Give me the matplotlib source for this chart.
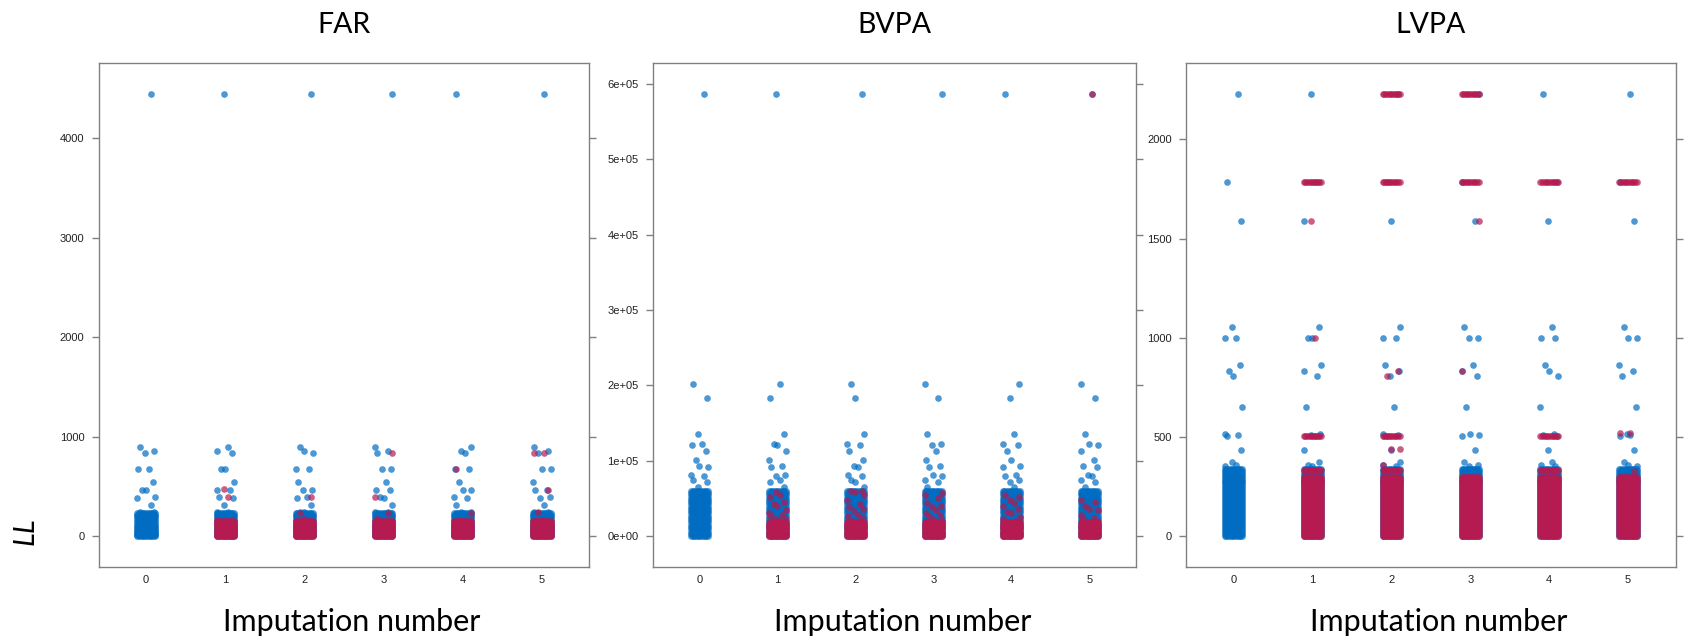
import numpy as np
import matplotlib
matplotlib.use("Agg")
import matplotlib.pyplot as plt

# Daten
imputations = [0, 1, 2, 3, 4, 5]
titles = ["FAR", "BVPA", "LVPA"]

# FAR
far_obs_dense = [0, 10, 20, 30, 45, 60, 75, 90, 105, 120, 140, 160, 180, 200, 215, 228]
far_obs_single = [4450, 895, 860, 835, 675, 670, 540, 465, 460, 390, 380, 310, 245, 240]
far_imp_dense = [0, 10, 20, 35, 50, 65, 80, 95, 110, 125, 140, 150]
far_imp_bars = [[], [], [], [], []]
far_imp_single = [[470, 390, 160, 150],
                  [390, 230, 170],
                  [835, 390, 230, 170],
                  [675, 230, 160],
                  [835, 835, 465, 240, 160]]
far_ticks = [0, 1000, 2000, 3000, 4000]

# BVPA
bvpa_obs_dense = [0, 3000, 6000, 9000, 12000, 15000, 18000, 21000, 24000, 27000, 30000,
                  33000, 36000, 39000, 42000, 45000, 48000, 51000, 54000, 57000, 60000]
bvpa_obs_single = [587000, 202000, 183000, 136000, 122000, 121000, 113000, 101000,
                   93000, 91000, 81000, 79000, 75000, 72000, 65000]
bvpa_imp_dense = [0, 2000, 4000, 6000, 8000, 10000, 12000, 14000, 16000, 18000]
bvpa_imp_bars = [[], [], [], [], []]
bvpa_imp_single = [[58000, 55000, 52000, 45000, 42000, 40000, 35000, 30000, 28000, 27000, 24000, 22000, 20000],
                   [60000, 60000, 58000, 55000, 48000, 42000, 38000, 36000, 33000, 28000, 26000, 24000, 20000],
                   [57000, 55000, 50000, 44000, 40000, 38000, 34000, 30000, 28000, 26000, 22000, 20000],
                   [55000, 52000, 48000, 44000, 40000, 36000, 32000, 30000, 25000, 22000, 20000],
                   [587000, 48000, 45000, 40000, 36000, 34000, 28000, 24000, 22000, 20000]]
bvpa_ticks = [0, 100000, 200000, 300000, 400000, 500000, 600000]

# LVPA
lvpa_obs_dense = [0, 10, 20, 30, 40, 50, 60, 70, 80, 90, 100, 110, 120, 130, 140, 150,
                  160, 170, 180, 190, 200, 210, 220, 230, 240, 250, 260, 270, 280, 290,
                  300, 310, 320, 330, 340]
lvpa_obs_single = [2231, 1787, 1587, 1056, 998, 998, 864, 833, 806, 651, 515, 510,
                   506, 436, 372, 360, 355]
lvpa_imp_dense = [0, 10, 20, 30, 40, 50, 60, 70, 80, 90, 100, 110, 120, 130, 140, 150,
                  160, 170, 180, 190, 200, 210, 220, 230, 240, 250, 260, 270, 280, 290, 300]
lvpa_imp_bars = [[1787, 506, 332, 267],
                 [2231, 1787, 506, 332],
                 [2231, 1787],
                 [1787, 506, 332],
                 [1787]]
lvpa_imp_single = [[1587, 998],
                   [833, 806, 440, 440, 360],
                   [1587, 833],
                   [],
                   [520, 520, 330]]
lvpa_ticks = [0, 500, 1000, 1500, 2000]

# Farben wie mice::mdc()
col_obs = "#006CC2"
col_imp = "#B61A51"

# Jitter (nur Positionen)
dense_offsets = np.linspace(-0.11, 0.11, 11)
single_offsets = [0.06, -0.08, 0.10, -0.02, 0.03, -0.10, 0.08, -0.05, 0.0, 0.11, -0.11]


def jitter_single(values, k):
    n = len(single_offsets)
    return [k + single_offsets[(i + 3 * k) % n] for i in range(len(values))]


def strip(ax, k, dense, bars, single, color):
    xs, ys = [], []
    for v in list(dense) + list(bars):
        xs += list(k + dense_offsets)
        ys += [v] * len(dense_offsets)
    xs += jitter_single(single, k)
    ys += list(single)
    ax.scatter(xs, ys, s=23, c=color, alpha=0.7, linewidths=0, zorder=3)


def draw_panel(ax, obs_dense, obs_single, imp_dense, imp_bars, imp_single, ticks, fmt):
    for k in imputations:
        strip(ax, k, obs_dense, [], obs_single, col_obs)
    for k in imputations[1:]:
        strip(ax, k, imp_dense, imp_bars[k - 1], imp_single[k - 1], col_imp)
    top = max(obs_single + [v for s in imp_single for v in s])
    ax.set_ylim(-0.07 * top, 1.07 * top)
    ax.set_xlim(-0.6, 5.6)
    ax.set_xticks(imputations)
    ax.set_yticks(ticks)
    ax.set_yticklabels([fmt(t) for t in ticks])
    for sp in ax.spines.values():
        sp.set_color("#808080")
        sp.set_linewidth(1.0)
    ax.tick_params(axis="y", direction="out", length=5, width=1, colors="#808080",
                   left=True, right=True, labelleft=True, labelright=False, pad=5.3,
                   labelsize=8, labelcolor="#222222")
    ax.tick_params(axis="x", length=0, pad=6, labelsize=8, labelcolor="#222222")
    for lab in ax.get_xticklabels() + ax.get_yticklabels():
        lab.set_fontfamily("Liberation Sans")


fig = plt.figure(figsize=(16.84, 6.42), dpi=100)
W, H = 1684, 642
frames = [(98.7, 589.3), (652.7, 1136), (1186, 1675.5)]
top_px, bot_px = 62.7, 567

panels = [
    (far_obs_dense, far_obs_single, far_imp_dense, far_imp_bars, far_imp_single, far_ticks,
     lambda t: f"{t:.0f}"),
    (bvpa_obs_dense, bvpa_obs_single, bvpa_imp_dense, bvpa_imp_bars, bvpa_imp_single, bvpa_ticks,
     lambda t: f"{t:.0e}"),
    (lvpa_obs_dense, lvpa_obs_single, lvpa_imp_dense, lvpa_imp_bars, lvpa_imp_single, lvpa_ticks,
     lambda t: f"{t:.0f}"),
]

for (x0, x1), title, p in zip(frames, titles, panels):
    ax = fig.add_axes([x0 / W, 1 - bot_px / H, (x1 - x0) / W, (bot_px - top_px) / H])
    draw_panel(ax, *p)
    cx = (x0 + x1) / 2 / W
    fig.text(cx, 1 - 24.6 / H, title, ha="center", va="center", fontsize=20.5,
             family="Lato")
    fig.text(cx + 8 / W, 1 - 622 / H, "Imputation number", ha="center", va="center",
             fontsize=22, family="Lato")

fig.text(26 / W, 1 - 531 / H, "LL", rotation=90, ha="center", va="center",
         fontsize=21, family="Lato", style="italic")

fig.savefig("out.png", dpi=100)
